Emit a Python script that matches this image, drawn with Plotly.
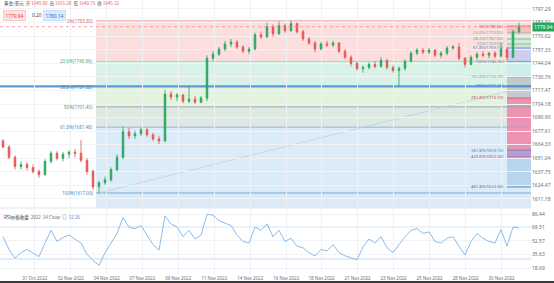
import plotly.graph_objects as go

# ---------------- data ----------------
bar_open = [1668,1662,1652,1643,1645,1642,1638,1635,1648,1656,1651,1655,1657,1656,1649,1638,1623,1627,1630,1640,
            1652,1677,1673,1675,1679,1674,1670,1668,1714,1711,1713,1707,1709,1706,1710,1749,1753,1758,1763,1765,
            1760,1756,1758,1772,1770,1780,1773,1781,1776,1783,1775,1768,1764,1758,1763,1762,1764,1756,1750,1744,
            1739,1740,1743,1741,1747,1740,1737,1739,1746,1754,1757,1755,1757,1752,1754,1759,1760,1749,1743,1750,
            1753,1752,1754,1751,1758,1750,1775]
bar_high = [1670,1664,1654,1648,1647,1645,1640,1650,1658,1658,1657,1659,1660,1669,1651,1640,1629,1633,1642,1655,
            1682,1681,1678,1681,1681,1676,1673,1718,1717,1715,1714,1721,1712,1712,1752,1756,1760,1766,1768,1767,
            1762,1760,1774,1775,1784,1782,1785,1783,1786,1784,1777,1770,1766,1765,1766,1766,1765,1758,1752,1746,
            1742,1745,1746,1750,1748,1742,1741,1748,1756,1759,1759,1759,1758,1756,1761,1762,1764,1750,1752,1755,
            1756,1755,1756,1764,1760,1777,1784]
bar_low = [1661,1650,1640,1640,1639,1636,1632,1634,1646,1649,1648,1651,1652,1647,1635,1620,1617,1625,1628,1638,
           1650,1670,1670,1673,1672,1668,1665,1667,1708,1707,1705,1705,1704,1705,1707,1746,1751,1756,1760,1758,
           1754,1753,1757,1768,1769,1770,1772,1774,1775,1773,1766,1762,1755,1757,1760,1760,1754,1748,1741,1737,
           1735,1738,1739,1740,1738,1735,1721,1737,1745,1752,1753,1753,1750,1749,1752,1757,1747,1740,1742,1748,
           1750,1749,1749,1750,1747,1749,1773]
bar_close = [1662,1652,1643,1645,1642,1638,1635,1648,1656,1651,1655,1657,1656,1649,1638,1623,1627,1630,1640,1652,
             1677,1673,1675,1679,1674,1670,1668,1714,1711,1713,1707,1709,1706,1710,1749,1753,1758,1763,1765,1760,
             1756,1758,1772,1770,1780,1773,1781,1776,1783,1775,1768,1764,1758,1763,1762,1764,1756,1750,1744,1739,
             1740,1743,1741,1747,1740,1737,1739,1746,1754,1757,1755,1757,1752,1754,1759,1760,1749,1743,1750,1753,
             1752,1754,1751,1758,1750,1775,1779.94]
rsi_values = [58,42,31,38,42,37,33,50,66,52,57,60,55,50,36,28,22,38,50,62,
              82,70,68,72,60,48,41,84,74,70,58,66,55,60,86,85,78,75,72,60,
              52,50,70,66,74,58,66,52,56,46,44,38,34,42,40,48,38,34,31,29,
              45,55,50,58,44,38,48,58,66,68,62,64,52,50,56,58,46,35,52,62,
              56,52,50,67,46,70,69]

date_tick_labels = ["31 Oct 2022", "02 Nov 2022", "04 Nov 2022", "07 Nov 2022", "09 Nov 2022",
                    "11 Nov 2022", "14 Nov 2022", "16 Nov 2022", "18 Nov 2022", "21 Nov 2022",
                    "23 Nov 2022", "25 Nov 2022", "28 Nov 2022", "30 Nov 2022"]
date_tick_bars = [5.3, 11.3, 17.3, 23.2, 29.2, 35.2, 41.2, 47.2, 53.1, 59.1, 65.1, 71.1, 77.1, 83.1]

price_ticks = [1797.29, 1783.91, 1770.62, 1757.33, 1744.04, 1730.76, 1717.47, 1704.18,
               1690.90, 1677.61, 1664.33, 1651.04, 1637.75, 1624.47, 1611.18]
rsi_ticks = [86.44, 69.51, 52.57, 35.63, 18.69]
rsi_bands = [70, 30]

fib_low = 1617.00
fib_high = 1785.80
fib_ratios = [0, 0.236, 0.382, 0.5, 0.618, 1.0]
support_level = 1721.40

fib2_names = ["0%", "23.6%", "38.2%", "50%", "61.8%", "100%", "161.8%", "180%",
              "261.8%", "361.8%", "423.6%", "461.8%"]
fib2_prices = [1780.6, 1773.8, 1767.9, 1763.0, 1759.1, 1745.9, 1730.7, 1721.9,
               1710.1, 1659.1, 1652.3, 1622.9]

last_price = 1779.94
ask_price = 1780.14
spread = 0.20
hover_ohlc = ["1649.80", "1655.20", "1640.75", "1645.32"]
rsi_last = 52.26

# ---------------- styling ----------------
W, H = 554, 283
PLOT_R = 531 / W
UP = "#26a65b"
DOWN = "#e5534b"
FONT = "Noto Sans, Noto Sans CJK SC, sans-serif"
TICKC = "#6a6d78"

bars = list(range(len(bar_close)))
x_lo, x_hi = -0.5, 88.0
main_rng = [1602.3, 1806.1]
rsi_rng = [11.16, 92.71]

fig = go.Figure()
fig.add_trace(go.Candlestick(
    x=bars, open=bar_open, high=bar_high, low=bar_low, close=bar_close,
    increasing=dict(line=dict(color=UP, width=0.8), fillcolor=UP),
    decreasing=dict(line=dict(color=DOWN, width=0.8), fillcolor=DOWN),
    whiskerwidth=0, xaxis="x", yaxis="y", showlegend=False, hoverinfo="skip"))
fig.add_trace(go.Scatter(
    x=bars, y=rsi_values, mode="lines", line=dict(color="#7db3e8", width=0.9),
    xaxis="x2", yaxis="y2", showlegend=False, hoverinfo="skip"))

shapes = []
annos = []

# main fib zones
fib_prices = [fib_high - r * (fib_high - fib_low) for r in fib_ratios]
zone_cols = ["#fcdede", "#d9f2e7", "#e3f4dc", "#dde9e2", "#dcebf8"]
line_cols = ["#f2a3a3", "#9fd3b9", "#5b9bd5", "#93a89b", "#86b1e0", "#6a9fd4"]
text_cols = ["#e26d6d", "#3fa77a", "#3f7fc4", "#6f8a78", "#4a8ad0", "#4a7fc4"]
x_fib0 = 15.5
for i in range(len(fib_prices) - 1):
    shapes.append(dict(type="rect", xref="x", yref="y", x0=x_fib0, x1=x_hi,
                       y0=fib_prices[i + 1], y1=fib_prices[i], fillcolor=zone_cols[i],
                       line=dict(width=0), layer="below"))
shapes.append(dict(type="rect", xref="x", yref="y", x0=x_fib0, x1=x_hi,
                   y0=main_rng[0], y1=fib_prices[-1], fillcolor="#dcebf8",
                   line=dict(width=0), layer="below"))

# second fib bands
fib2_cols = ["#f6c0c0", "#dfe8d8", "#d4ead4", "#cfe4d8", "#cfcdf0", "#cdeeea",
             "#bfcaca", "#c3cbcf", "#ec92b3", "#b99ccb", "#b8d5ef"]
fib2_line = ["#e05a5a", "#8fae8f", "#5fae6f", "#6fae8f", "#4a7fd0", "#7a8a99",
             "#7f9f8f", "#4a7fd0", "#b0506a", "#4a7fd0", "#9a4fb0", "#5a6a7a"]
x_f2 = 84.0
for i in range(len(fib2_prices) - 1):
    shapes.append(dict(type="rect", xref="x", yref="y", x0=x_f2, x1=x_hi,
                       y0=fib2_prices[i + 1], y1=fib2_prices[i], fillcolor=fib2_cols[i],
                       line=dict(width=0), layer="below"))

# main fib lines + labels
for i, p in enumerate(fib_prices):
    if i == 2:
        continue
    shapes.append(dict(type="line", xref="x", yref="y", x0=x_fib0, x1=x_hi, y0=p, y1=p,
                       line=dict(color=line_cols[i], width=0.9), layer="below"))
for i, p in enumerate(fib_prices):
    annos.append(dict(xref="x", yref="y", x=x_fib0 - 0.1, y=p, xanchor="right", yanchor="middle",
                      text=f"{fib_ratios[i]*100:g}%({p:.2f})", showarrow=False,
                      font=dict(size=4.5, color=text_cols[i], family=FONT)))

# thick horizontal support line
shapes.append(dict(type="line", xref="x", yref="y", x0=x_lo, x1=x_hi, y0=support_level, y1=support_level,
                   line=dict(color="#5b9bd5", width=2.2), layer="below"))

# second fib lines + labels
for i, p in enumerate(fib2_prices):
    shapes.append(dict(type="line", xref="x", yref="y", x0=x_f2, x1=x_hi, y0=p, y1=p,
                       line=dict(color=fib2_line[i], width=0.7), layer="below"))
    annos.append(dict(xref="x", yref="y", x=x_f2 - 0.1, y=p, xanchor="right", yanchor="middle",
                      text=f"{fib2_names[i]}({p:.2f})", showarrow=False,
                      font=dict(size=4.2, color=fib2_line[i], family=FONT)))

# faint trend line from the low
shapes.append(dict(type="line", xref="x", yref="y", x0=16, y0=fib_low, x1=x_f2, y1=1716.5,
                   line=dict(color="#c3cfe0", width=0.8), layer="below"))

# current price dotted line
shapes.append(dict(type="line", xref="x", yref="y", x0=x_lo, x1=x_hi, y0=last_price, y1=last_price,
                   line=dict(color="#ef8a8a", width=0.8, dash="dot")))

# rsi bands
for b in rsi_bands:
    shapes.append(dict(type="line", xref="x2", yref="y2", x0=x_lo, x1=x_hi, y0=b, y1=b,
                       line=dict(color="#b3cbe8", width=0.8), layer="below"))

# panel separator
sep_y = 75 / H
shapes.append(dict(type="line", xref="paper", yref="paper", x0=0, x1=PLOT_R, y0=sep_y, y1=sep_y,
                   line=dict(color="#dfe3ea", width=1)))
# bottom dark strip
shapes.append(dict(type="rect", xref="paper", yref="paper", x0=0, x1=1, y0=0, y1=2 / H,
                   fillcolor="#3a3a3a", line=dict(width=0)))

# last price box on axis
annos.append(dict(xref="paper", yref="y", x=532 / W, y=last_price, xanchor="left", yanchor="middle",
                  text=f"{last_price:.2f}", showarrow=False, bgcolor=UP, borderpad=1,
                  font=dict(size=5, color="white", family=FONT)))


def px(x, y):
    return x / W, 1 - y / H


# header line 1
hx, hy = px(2, 4)
annos.append(dict(xref="paper", yref="paper", x=hx, y=hy, xanchor="left", yanchor="middle", showarrow=False,
                  text=("<span style='color:#333'>黄金/美元</span>  "
                        f"<span style='color:#555'>开</span> <span style='color:#e05a5a'>{hover_ohlc[0]}</span>  "
                        f"<span style='color:#555'>高</span> <span style='color:#e05a5a'>{hover_ohlc[1]}</span>  "
                        f"<span style='color:#555'>低</span> <span style='color:#e05a5a'>{hover_ohlc[2]}</span>  "
                        f"<span style='color:#555'>收</span> <span style='color:#e05a5a'>{hover_ohlc[3]}</span>"),
                  font=dict(size=4.5, family="Noto Sans CJK SC, Noto Sans, sans-serif")))
# header line 2
bx, by = px(3, 15)
annos.append(dict(xref="paper", yref="paper", x=bx, y=by, xanchor="left", yanchor="middle", showarrow=False,
                  text=f"{last_price:.2f}", bgcolor="#fde3e3", bordercolor="#f7b5b5", borderwidth=0.6,
                  borderpad=2, font=dict(size=4.8, color="#e04a4a", family=FONT)))
sx, sy = px(30, 15)
annos.append(dict(xref="paper", yref="paper", x=sx, y=sy, xanchor="left", yanchor="middle", showarrow=False,
                  text=f"{spread:.2f}", font=dict(size=4.8, color="#444", family=FONT)))
ax_, ay_ = px(43, 15)
annos.append(dict(xref="paper", yref="paper", x=ax_, y=ay_, xanchor="left", yanchor="middle", showarrow=False,
                  text=f"{ask_price:.2f}", bgcolor="#dcebfb", bordercolor="#b7d3f3", borderwidth=0.6,
                  borderpad=2, font=dict(size=4.8, color="#2a6fd0", family=FONT)))
# RSI label
rx, ry = px(2, 217)
annos.append(dict(xref="paper", yref="paper", x=rx, y=ry, xanchor="left", yanchor="middle", showarrow=False,
                  text=("<span style='color:#333'>RSI价格收盘</span>  <span style='color:#666'>2022  14 Close  ◎</span>  "
                        f"<span style='color:#4a8ad0'>{rsi_last:.2f}</span>"),
                  font=dict(size=4.5, family="Noto Sans CJK SC, Noto Sans, sans-serif")))

fig.update_layout(
    width=W, height=H, margin=dict(l=0, r=0, t=0, b=0),
    paper_bgcolor="white", plot_bgcolor="white",
    showlegend=False, shapes=shapes, annotations=annos, boxgap=0.62,
    font=dict(family=FONT, size=5, color=TICKC),
    xaxis=dict(domain=[0, PLOT_R], range=[x_lo, x_hi], anchor="y", showticklabels=False,
               tickvals=date_tick_bars, showgrid=True, gridcolor="#eef1f6", gridwidth=1,
               zeroline=False, showline=False, ticks="", rangeslider=dict(visible=False)),
    yaxis=dict(domain=[75 / H, 1], range=main_rng, anchor="x", side="right",
               tickvals=price_ticks, ticktext=[f"{v:.2f}" for v in price_ticks],
               showgrid=True, gridcolor="#f1f3f7", zeroline=False, showline=False, ticks="",
               tickfont=dict(size=5, color=TICKC)),
    xaxis2=dict(domain=[0, PLOT_R], range=[x_lo, x_hi], anchor="y2",
                tickvals=date_tick_bars, ticktext=date_tick_labels,
                showgrid=True, gridcolor="#eef1f6", zeroline=False, showline=False, ticks="",
                tickfont=dict(size=4.5, color=TICKC), tickangle=0),
    yaxis2=dict(domain=[9 / H, 74 / H], range=rsi_rng, anchor="x2", side="right",
                tickvals=rsi_ticks, ticktext=[f"{v:.2f}" for v in rsi_ticks],
                showgrid=True, gridcolor="#f1f3f7", zeroline=False, showline=False, ticks="",
                tickfont=dict(size=5, color=TICKC)),
)

fig.write_html("out.html")
